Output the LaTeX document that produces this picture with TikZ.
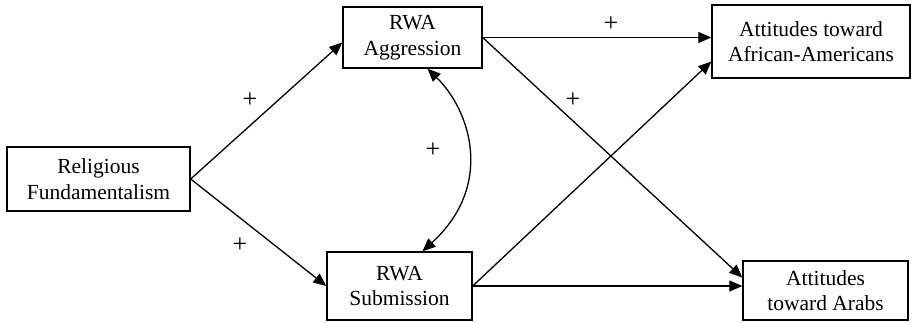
\documentclass[tikz,border=0pt]{standalone}
\usepackage{fontspec}
\setmainfont{Liberation Serif}
\usetikzlibrary{arrows.meta}
\begin{document}
\begin{tikzpicture}[x=1pt, y=-1pt, >={Triangle[length=13pt,width=11pt]},
    var/.style={draw, line width=1.4pt, align=center, inner sep=0pt,
        font=\fontsize{21.5}{25.5}\selectfont},
    path/.style={->, line width=1.3pt},
    sign/.style={font=\fontsize{26}{26}\selectfont}]
    \useasboundingbox (0,0) rectangle (912,322);

    \node[var, minimum width=183pt, minimum height=64pt] (rf) at (98.5,179) {Religious\\Fundamentalism};
    \node[var, minimum width=139pt, minimum height=61pt] (agg) at (412.5,37.5) {RWA\\Aggression};
    \node[var, minimum width=145pt, minimum height=68pt] (sub) at (399.5,286) {RWA\\Submission};
    \node[var, minimum width=198pt, minimum height=73pt] (afam) at (811,41.5) {Attitudes toward\\African-Americans};
    \node[var, minimum width=165pt, minimum height=59pt] (arab) at (825.5,290.5) {Attitudes\\toward Arabs};

    \draw[path] (rf.east) -- ([yshift=-5pt]agg.west);
    \draw[path] (rf.east) -- (sub.west);
    \draw[path] (agg.east) -- (agg.east -| afam.west);
    \draw[path] (agg.east) -- ([yshift=13pt]arab.west);
    \draw[path] (sub.east) -- ([yshift=-20pt]afam.west);
    \draw[path] (sub.east) -- (sub.east -| arab.west);
    \draw[path, <->] ([xshift=15pt]agg.south) .. controls (470,110) and (495,185) .. ([xshift=23pt]sub.north);

    \node[sign] (p1) at (250,100) {+};
    \node[sign] (p2) at (240,245) {+};
    \node[sign] (p3) at (611,24) {+};
    \node[sign] (p4) at (573,100) {+};
    \node[sign] (p5) at (433,150) {+};
\end{tikzpicture}
\end{document}
